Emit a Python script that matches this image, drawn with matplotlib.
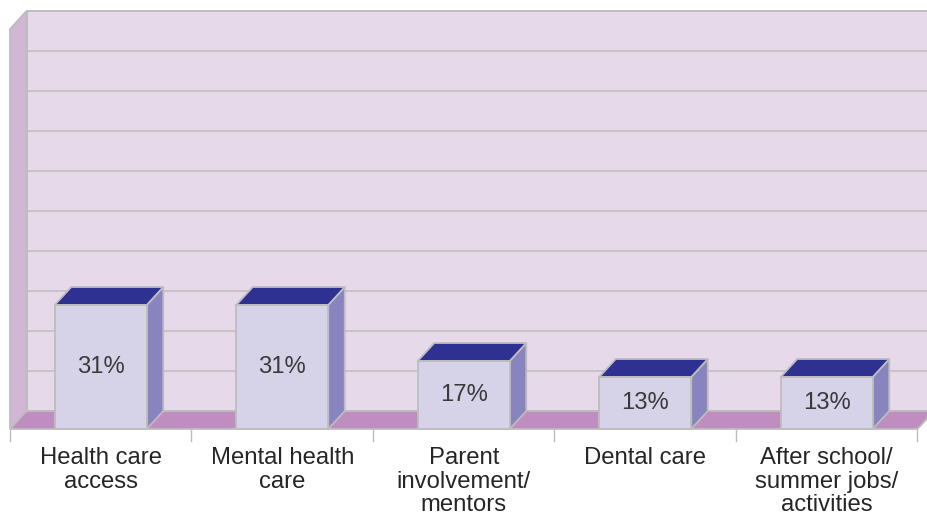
import matplotlib
matplotlib.use("Agg")
import matplotlib.pyplot as plt
from matplotlib.patches import Polygon

# Chart data
categories = ["Health care\naccess", "Mental health\ncare", "Parent\ninvolvement/\nmentors",
              "Dental care", "After school/\nsummer jobs/\nactivities"]
values = [31, 31, 17, 13, 13]
value_labels = ["31%", "31%", "17%", "13%", "13%"]
gridlines = [10, 20, 30, 40, 50, 60, 70, 80, 90, 100]

# Styling
WALL = "#E6D9EA"
SIDE_WALL = "#D3B6D6"
FLOOR = "#BF8DBF"
BAR_FRONT = "#D6D3E9"
BAR_TOP = "#2E3192"
BAR_SIDE = "#8884BF"
EDGE = "#BDBDBD"
TEXT = "#262626"
FONT = ["Liberation Sans", "DejaVu Sans"]

# 3D look: depth offset of the floor/bars (in data units)
DX, DY = 0.091, 4.5
BAR_W = 0.507
YMAX = 100

fig = plt.figure(figsize=(9.28, 5.17), dpi=100)
ax = fig.add_axes([0, 0, 1, 1])
ax.set_xlim(-0.5551, 4.5579)
ax.set_ylim(-22, 107.25)
ax.axis("off")

n = len(categories)
x0, x1 = -0.5, n - 0.5
xr = x1 + 0.5  # back wall runs past the right edge

lw = 1.3
# back wall
ax.add_patch(Polygon([(x0 + DX, DY), (xr, DY), (xr, YMAX + DY), (x0 + DX, YMAX + DY)],
                     closed=True, fc=WALL, ec=EDGE, lw=lw, zorder=1))
for g in gridlines:
    ax.plot([x0 + DX, xr], [g + DY, g + DY], color=EDGE, lw=1.1, zorder=1.5)
# side wall
ax.add_patch(Polygon([(x0, 0), (x0, YMAX), (x0 + DX, YMAX + DY), (x0 + DX, DY)],
                     closed=True, fc=SIDE_WALL, ec=EDGE, lw=lw, zorder=2))
# floor
ax.add_patch(Polygon([(x0, 0), (x1, 0), (x1 + DX, DY), (x0 + DX, DY)],
                     closed=True, fc=FLOOR, ec=EDGE, lw=lw, zorder=2))

# category ticks under the floor
for k in range(n + 1):
    xt = x0 + k
    ax.plot([xt, xt], [0, -3], color=EDGE, lw=1.0, zorder=2)

# bars
for i, (v, lab) in enumerate(zip(values, value_labels)):
    l, r = i - BAR_W / 2, i + BAR_W / 2
    ax.add_patch(Polygon([(r, 0), (r + DX, DY), (r + DX, v + DY), (r, v)],
                         closed=True, fc=BAR_SIDE, ec=EDGE, lw=lw, zorder=3))
    ax.add_patch(Polygon([(l, v), (r, v), (r + DX, v + DY), (l + DX, v + DY)],
                         closed=True, fc=BAR_TOP, ec=EDGE, lw=lw, zorder=3))
    ax.add_patch(Polygon([(l, 0), (r, 0), (r, v), (l, v)],
                         closed=True, fc=BAR_FRONT, ec=EDGE, lw=lw, zorder=4))
    ax.text(i, v / 2, lab, ha="center", va="center", fontsize=17.2,
            color="#3A3A3A", family=FONT, zorder=5)

for i, c in enumerate(categories):
    ax.text(i, -4.6, c, ha="center", va="top", fontsize=17.2, color=TEXT,
            family=FONT, linespacing=1.08, zorder=5)

fig.savefig("out.png", dpi=100, facecolor="white")
